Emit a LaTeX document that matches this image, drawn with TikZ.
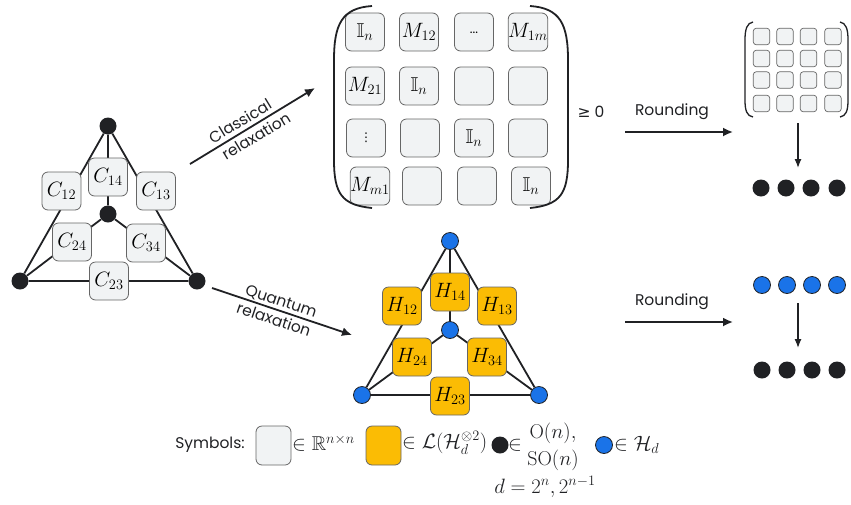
\documentclass[tikz,border=0pt]{standalone}
\usepackage{amssymb}
\usepackage{fontspec}
\usetikzlibrary{arrows.meta}
\newfontfamily\pop{Poppins}
\newfontfamily\dejavu{DejaVu Sans}
\definecolor{gfill}{HTML}{F1F3F4}
\definecolor{gborder}{HTML}{666666}
\definecolor{gyellow}{HTML}{FBBC04}
\definecolor{gblue}{HTML}{1A73E8}
\definecolor{gdark}{HTML}{202124}
\tikzset{
  cbox/.style={draw=gborder, fill=gfill, rounded corners=6pt, minimum width=39pt, minimum height=38pt, inner sep=0pt, line width=0.8pt, font=\fontsize{20}{24}\selectfont},
  hbox/.style={cbox, fill=gyellow},
  sbox/.style={draw=gborder, fill=gfill, rounded corners=3pt, minimum width=16.5pt, minimum height=16.5pt, inner sep=0pt, line width=0.7pt},
  bdot/.style={circle, fill=gdark, minimum size=17pt, inner sep=0pt},
  qdot/.style={circle, fill=gblue, draw=gdark, line width=0.8pt, minimum size=17pt, inner sep=0pt},
  tedge/.style={line width=1.8pt, draw=gdark},
  arr/.style={line width=1.8pt, draw=gdark, -{Latex[length=10pt,width=9pt]}},
  lbl/.style={font=\pop\fontsize{15.5}{18}\selectfont, text=gdark, inner sep=0pt},
  mth/.style={font=\fontsize{20}{24}\selectfont, inner sep=0pt, text=gdark},
  paren/.style={line width=1.8pt, draw=gdark}
}
\begin{document}
\begin{tikzpicture}[x=1pt,y=-1pt]
\useasboundingbox (0,0) rectangle (851,504);

% ---- classical triangle ----
\node[bdot] (ct) at (108,126) {};
\node[bdot] (cl) at (20,281) {};
\node[bdot] (cr) at (197,281) {};
\node[bdot] (cc) at (108,214) {};
\draw[tedge] (ct) -- (cl) (ct) -- (cr) (cl) -- (cr) (ct) -- (cc) (cc) -- (cl) (cc) -- (cr);
\node[cbox] (c12) at (61.5,191) {$C_{12}$};
\node[cbox] (c14) at (108,177) {$C_{14}$};
\node[cbox] (c13) at (156,191) {$C_{13}$};
\node[cbox] (c24) at (72,242) {$C_{24}$};
\node[cbox] (c34) at (146,243) {$C_{34}$};
\node[cbox] (c23) at (109,281) {$C_{23}$};

% ---- big matrix ----
\node[cbox] (m11) at (365,32) {$\mathbb{I}_n$};
\node[cbox] (m12) at (419,32) {$M_{12}$};
\node[cbox] (m13) at (474,32) {\raisebox{-3pt}{\fontsize{13}{13}\selectfont\pop...}};
\node[cbox] (m14) at (528,32) {$M_{1m}$};
\node[cbox] (m21) at (365,86) {$M_{21}$};
\node[cbox] (m22) at (419,86) {$\mathbb{I}_n$};
\node[cbox] (m23) at (474,86) {};
\node[cbox] (m24) at (528,86) {};
\node[cbox, font=\dejavu\fontsize{12}{12}\selectfont] (m31) at (366,138) {⋮};
\node[cbox] (m32) at (420,138) {};
\node[cbox] (m33) at (474,138) {$\mathbb{I}_n$};
\node[cbox] (m34) at (528,138) {};
\node[cbox] (m41) at (370,186) {$M_{m1}$};
\node[cbox] (m42) at (422,186) {};
\node[cbox] (m43) at (477,186) {};
\node[cbox] (m44) at (531,186) {$\mathbb{I}_n$};
\draw[paren] (372,6) .. controls (342,8) and (334,24) .. (334,60) -- (334,160) .. controls (334,194) and (342,205) .. (372,208);
\draw[paren] (530,6) .. controls (560,8) and (568,24) .. (568,60) -- (568,160) .. controls (568,194) and (560,205) .. (530,208);
\node[lbl] (geq) at (591,112) {{\dejavu ≥} 0};

% ---- small matrix ----
\foreach \r/\yy in {1/36.5,2/58.5,3/80,4/103.5}{
  \foreach \c/\xx in {1/761.5,2/785,3/808.5,4/833}{
    \node[sbox] (s\r\c) at (\xx,\yy) {};
  }
}
\draw[paren,line width=1.3pt] (753,22) .. controls (747,23) and (745,29) .. (745,40) -- (745,100) .. controls (745,111) and (747,116) .. (753,117);
\draw[paren,line width=1.3pt] (840,22) .. controls (846,23) and (848,29) .. (848,40) -- (848,100) .. controls (848,111) and (846,116) .. (840,117);

% ---- rounding top ----
\coordinate (ra1) at (625,132);
\coordinate (ra2) at (733,132);
\draw[arr] (ra1) -- (ra2);
\node[lbl] (rl1) at (672,112) {Rounding};
\node[bdot] (d1) at (761,188) {};
\node[bdot] (d2) at (786,188) {};
\node[bdot] (d3) at (811,188) {};
\node[bdot] (d4) at (837,188) {};
\coordinate (sm) at (798,123);
\coordinate (smd) at (798,168);
\draw[arr,line width=1.3pt,-{Latex[length=9pt,width=7pt]}] (sm) -- (smd);

% ---- classical arrow ----
\coordinate (ca1) at (190,164);
\coordinate (ca2) at (315,88);
\draw[arr] (ca1) -- (ca2);
\node[lbl, rotate=31.3] (cl1) at (240,121) {Classical};
\node[lbl, rotate=31.3] (cl2) at (256,136) {relaxation};

% ---- quantum arrow ----
\coordinate (qa1) at (212,288);
\coordinate (qa2) at (352,335);
\draw[arr] (qa1) -- (qa2);
\node[lbl, rotate=-18.6] (ql1) at (281,302) {Quantum};
\node[lbl, rotate=-18.6] (ql2) at (274,319) {relaxation};

% ---- quantum triangle ----
\node[qdot] (qt) at (450,241) {};
\node[qdot] (ql) at (362,395) {};
\node[qdot] (qr) at (539,395) {};
\node[qdot] (qc) at (450,330) {};
\draw[tedge] (qt) -- (ql) (qt) -- (qr) (ql) -- (qr) (qt) -- (qc) (qc) -- (ql) (qc) -- (qr);
\node[hbox] (h12) at (402,306) {$H_{12}$};
\node[hbox] (h14) at (450,292) {$H_{14}$};
\node[hbox] (h13) at (497,306) {$H_{13}$};
\node[hbox] (h24) at (412,357) {$H_{24}$};
\node[hbox] (h34) at (487,357) {$H_{34}$};
\node[hbox] (h23) at (450,396) {$H_{23}$};

% ---- rounding bottom ----
\coordinate (rb1) at (625,322);
\coordinate (rb2) at (733,322);
\draw[arr] (rb1) -- (rb2);
\node[lbl] (rl2) at (672,302) {Rounding};
\node[qdot] (b1) at (762,285) {};
\node[qdot] (b2) at (787,285) {};
\node[qdot] (b3) at (812,285) {};
\node[qdot] (b4) at (837,285) {};
\node[bdot] (e1) at (762,370) {};
\node[bdot] (e2) at (787,370) {};
\node[bdot] (e3) at (812,370) {};
\node[bdot] (e4) at (837,370) {};
\coordinate (bm) at (798,303);
\coordinate (bmd) at (798,348);
\draw[arr,line width=1.3pt,-{Latex[length=9pt,width=7pt]}] (bm) -- (bmd);

% ---- legend ----
\node[lbl] (sym) at (210,445) {Symbols:};
\node[cbox, minimum width=35pt, minimum height=39pt] (lg) at (273.5,445.5) {};
\node[mth, anchor=west] (lgt) at (292,443) {$\in\mathbb{R}^{n\times n}$};
\node[hbox, minimum width=35pt, minimum height=39pt] (ly) at (383.5,445.5) {};
\node[mth, anchor=west] (lyt) at (402,443) {$\in\mathcal{L}(\mathcal{H}_d^{\otimes 2})$};
\node[bdot] (lb) at (500,445) {};
\node[mth, anchor=west] (lbt) at (508,445) {$\in$};
\node[mth] (lo) at (553,433) {$\mathrm{O}(n),$};
\node[mth] (lso) at (553,460) {$\mathrm{SO}(n)$};
\node[qdot] (lq) at (604,445) {};
\node[mth, anchor=west] (lqt) at (614,445) {$\in\mathcal{H}_d$};
\node[mth] (ld) at (545,487) {$d=2^n,2^{n-1}$};
\end{tikzpicture}
\end{document}
